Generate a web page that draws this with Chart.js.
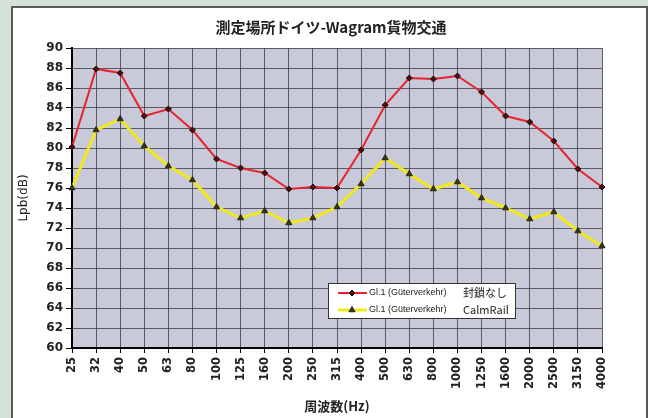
<!DOCTYPE html>
<html>
<head>
<meta charset="utf-8">
<script src="https://cdn.jsdelivr.net/npm/chart.js@4/dist/chart.umd.min.js"></script>
<style>
  html, body { margin: 0; padding: 0; background: #d5e2d7; }
  #panel { position: absolute; left: 11px; top: 6px; width: 633px; height: 420px; background: #ffffff; border-left: 2px solid #5a5a5a; border-top: 2px solid #5a5a5a; border-right: 2px solid #5a5a5a; }
  #wrap { position: absolute; left: 0; top: 0; width: 648px; height: 418px; }
</style>
</head>
<body>
<div id="panel"></div>
<div id="wrap"><canvas id="c" width="648" height="418"></canvas></div>
<script>
const chartTitle = '測定場所ドイツ-Wagram貨物交通';
const xTitle = '周波数(Hz)';
const yTitle = 'Lpb(dB)';
const frequencies = ['25','32','40','50','63','80','100','125','160','200','250','315','400','500','630','800','1000','1250','1600','2000','2500','3150','4000'];
const seriesOpen  = [80.1, 87.9, 87.5, 83.2, 83.9, 81.8, 78.9, 78.0, 77.5, 75.9, 76.1, 76.0, 79.8, 84.3, 87.0, 86.9, 87.2, 85.6, 83.2, 82.6, 80.7, 77.9, 76.1];
const seriesCalm  = [76.0, 81.8, 82.9, 80.2, 78.2, 76.8, 74.1, 73.0, 73.7, 72.5, 73.0, 74.1, 76.4, 79.0, 77.4, 75.9, 76.6, 75.0, 74.0, 72.9, 73.6, 71.7, 70.2];
const legendPrefix = ['Gl.1 (Güterverkehr)', 'Gl.1 (Güterverkehr)'];
const legendNames = ['封鎖なし', 'CalmRail'];
const yMin = 60, yMax = 90, yStep = 2;

const plotBg = {
  id: 'plotBg',
  beforeDraw(chart) {
    const {ctx, chartArea: a} = chart;
    ctx.save();
    ctx.fillStyle = '#c8cad9';
    ctx.fillRect(a.left, a.top, a.right - a.left, a.bottom - a.top);
    ctx.restore();
  }
};

const boxLegend = {
  id: 'boxLegend',
  afterDatasetsDraw(chart) {
    const {ctx} = chart;
    const x0 = 328, y0 = 283, w = 187, h = 35;
    ctx.save();
    ctx.fillStyle = '#ffffff';
    ctx.fillRect(x0, y0, w, h);
    ctx.strokeStyle = '#333';
    ctx.lineWidth = 1;
    ctx.strokeRect(x0 + 0.5, y0 + 0.5, w, h);
    chart.data.datasets.forEach((ds, i) => {
      const y = y0 + 10 + i * 17;
      ctx.strokeStyle = ds.borderColor;
      ctx.lineWidth = ds.borderWidth;
      ctx.beginPath();
      ctx.moveTo(x0 + 10, y);
      ctx.lineTo(x0 + 39, y);
      ctx.stroke();
      ctx.fillStyle = ds.pointBackgroundColor;
      ctx.strokeStyle = ds.pointBorderColor;
      ctx.lineWidth = 1;
      Chart.helpers.drawPoint(ctx, {pointStyle: ds.pointStyle, radius: ds.pointRadius, rotation: 0, borderWidth: 1}, x0 + 24, y);
      ctx.fillStyle = '#222';
      ctx.textBaseline = 'middle';
      ctx.font = '9px "Liberation Sans", Arial, sans-serif';
      ctx.fillText(legendPrefix[i], x0 + 41, y);
      ctx.font = '11px "Noto Sans CJK JP", "Liberation Sans", sans-serif';
      ctx.fillText(legendNames[i], x0 + 135, y);
    });
    ctx.restore();
  }
};

new Chart(document.getElementById('c'), {
  type: 'line',
  data: {
    labels: frequencies,
    datasets: [
      {
        label: legendPrefix[0] + ' ' + legendNames[0],
        data: seriesOpen,
        borderColor: '#e8232d',
        borderWidth: 2,
        pointStyle: 'rectRot',
        pointRadius: 3,
        pointBackgroundColor: '#4a1010',
        pointBorderColor: '#2a0a0a',
        pointBorderWidth: 1,
        tension: 0
      },
      {
        label: legendPrefix[1] + ' ' + legendNames[1],
        data: seriesCalm,
        borderColor: '#f2e81a',
        borderWidth: 3,
        pointStyle: 'triangle',
        pointRadius: 3.5,
        pointBackgroundColor: '#3a3410',
        pointBorderColor: '#222',
        pointBorderWidth: 1,
        tension: 0
      }
    ]
  },
  options: {
    responsive: false,
    animation: false,
    devicePixelRatio: 1,
    layout: { padding: { left: 14, right: 0, top: 0, bottom: 0 } },
    plugins: {
      legend: { display: false },
      tooltip: { enabled: false },
      title: {
        display: true,
        text: chartTitle,
        color: '#222',
        font: { family: '"Noto Sans CJK JP", sans-serif', size: 15, weight: 'bold', lineHeight: 1.2 },
        padding: { top: 18, bottom: 12 }
      }
    },
    scales: {
      x: {
        type: 'category',
        offset: false,
        grid: { color: 'rgba(70,70,80,0.85)', lineWidth: 1, tickLength: 5, tickColor: '#000', drawTicks: true },
        border: { display: true, color: '#000', width: 2 },
        ticks: {
          autoSkip: false, minRotation: 90, maxRotation: 90, padding: 4, color: '#222',
          font: { family: '"DejaVu Sans", sans-serif', size: 11.5, weight: 'bold' }
        },
        title: {
          display: true, text: xTitle, color: '#222',
          font: { family: '"Noto Sans CJK JP", sans-serif', size: 13, weight: 'bold', lineHeight: 1.2 },
          padding: { top: 0, bottom: 4 }
        },
        afterFit(s) { s.height = 70; }
      },
      y: {
        position: 'left',
        min: yMin, max: yMax,
        grid: { color: 'rgba(70,70,80,0.85)', lineWidth: 1, tickLength: 6, tickColor: '#000' },
        border: { display: true, color: '#000', width: 2 },
        ticks: {
          stepSize: yStep, padding: 3, color: '#222',
          font: { family: '"DejaVu Sans", sans-serif', size: 12, weight: 'bold' }
        },
        title: {
          display: true, text: yTitle, color: '#222',
          font: { family: '"DejaVu Sans", sans-serif', size: 12, weight: 'normal', lineHeight: 1.2 },
          padding: { top: 3, bottom: 0 }
        },
        afterFit(s) { s.width = 58; }
      },
      yRight: {
        position: 'right',
        display: true,
        min: yMin, max: yMax,
        grid: { display: false, drawTicks: false },
        border: { display: false },
        ticks: { display: false },
        afterFit(s) { s.width = 46; }
      }
    }
  },
  plugins: [plotBg, boxLegend]
});
</script>
</body>
</html>
